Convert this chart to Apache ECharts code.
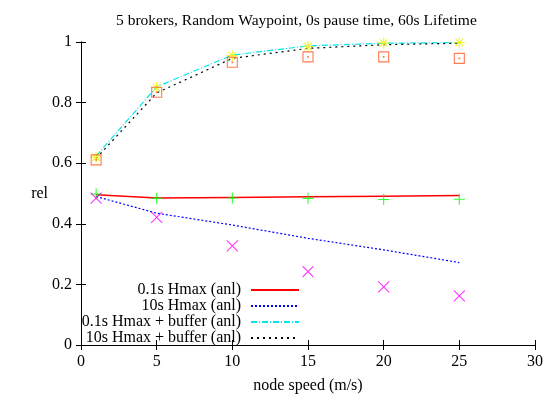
<!DOCTYPE html>
<html>
<head>
<meta charset="utf-8">
<script src="https://cdn.jsdelivr.net/npm/echarts@6/dist/echarts.min.js"></script>
<style>html,body{margin:0;padding:0;background:#fff}#c{width:547px;height:400px}</style>
</head>
<body>
<div id="c"></div>
<script>
const speeds = [1, 5, 10, 15, 20, 25];
const xTicks = [0, 5, 10, 15, 20, 25, 30];
const yTicks = [0, 0.2, 0.4, 0.6, 0.8, 1];
const hmax01Anl = [0.496, 0.485, 0.487, 0.489, 0.491, 0.493];
const hmax10Anl = [0.490, 0.435, 0.396, 0.352, 0.314, 0.272];
const hmax01BufAnl = [0.624, 0.852, 0.957, 0.987, 0.996, 0.998];
const hmax10BufAnl = [0.616, 0.832, 0.946, 0.979, 0.991, 0.996];
const hmax01Sim = [0.498, 0.484, 0.485, 0.484, 0.480, 0.481];
const hmax10Sim = [0.485, 0.421, 0.327, 0.242, 0.192, 0.162];
const hmax01BufSim = [0.620, 0.850, 0.955, 0.985, 0.997, 0.998];
const hmax10BufSim = [0.611, 0.834, 0.933, 0.951, 0.951, 0.946];
const names = ['0.1s Hmax (anl)', '10s Hmax (anl)', '0.1s Hmax + buffer (anl)', '10s Hmax + buffer (anl)'];

const pts = arr => speeds.map((s, i) => [s, arr[i]]);
const font = 'Liberation Serif, Times New Roman, serif';

const lineSeries = (name, arr, color, type, width) => ({
  name, type: 'line', data: pts(arr), symbol: 'none', z: 2,
  lineStyle: { color, type, width }, itemStyle: { color }
});
const scatterSeries = (name, arr, color, path, size) => ({
  name, type: 'scatter', data: pts(arr), symbol: path, symbolSize: size, z: 3,
  itemStyle: { color: 'none', borderColor: color, borderWidth: 1.1 }
});

const legendRows = [282, 298, 314, 330];
const legends = names.map((n, i) => ({
  data: [n], right: 247, top: legendRows[i], align: 'right', orient: 'horizontal',
  padding: 0, itemWidth: 48, itemHeight: 12, itemGap: 0, selectedMode: false,
  itemStyle: { opacity: 0 },
  textStyle: { fontFamily: font, fontSize: 16, color: '#000', padding: [0, 5, 0, 0] }
}));

const axisCommon = {
  min: 0, axisLine: { show: true, lineStyle: { color: '#000', width: 1 } },
  axisTick: { show: true, inside: true, length: 5, lineStyle: { color: '#000' } },
  splitLine: { show: false }
};

const chart = echarts.init(document.getElementById('c'), null, { renderer: 'canvas' });
chart.setOption({
  animation: false,
  backgroundColor: '#fff',
  title: {
    text: '5 brokers, Random Waypoint, 0s pause time, 60s Lifetime',
    left: 111, top: 8,
    textStyle: { fontFamily: font, fontSize: 15.5, fontWeight: 'normal', color: '#000' }
  },
  legend: legends,
  grid: { left: 81, right: 12, top: 42, bottom: 55, containLabel: false },
  xAxis: [
    Object.assign({}, axisCommon, {
      type: 'value', max: xTicks[xTicks.length - 1], interval: 5, position: 'bottom',
      name: 'node speed (m/s)', nameLocation: 'middle', nameGap: 33,
      nameTextStyle: { fontFamily: font, fontSize: 16, color: '#000' },
      axisLabel: { fontFamily: font, fontSize: 16, color: '#000', margin: 9 }
    }),
    Object.assign({}, axisCommon, {
      type: 'value', max: 30, interval: 5, position: 'top', axisLabel: { show: false }
    })
  ],
  yAxis: [
    Object.assign({}, axisCommon, {
      type: 'value', max: yTicks[yTicks.length - 1], interval: 0.2, position: 'left',
      name: 'rel', nameLocation: 'middle', nameRotate: 0, nameGap: 33, nameMoveOverlap: false,
      nameTextStyle: { fontFamily: font, fontSize: 16, color: '#000' },
      axisLabel: { fontFamily: font, fontSize: 16, color: '#000', margin: 9 }
    }),
    Object.assign({}, axisCommon, {
      type: 'value', max: 1, interval: 0.2, position: 'right', axisLabel: { show: false }
    })
  ],
  series: [
    lineSeries(names[0], hmax01Anl, '#ff0000', 'solid', 1.5),
    lineSeries(names[1], hmax10Anl, '#0000ff', [2, 2], 1.2),
    lineSeries(names[2], hmax01BufAnl, '#00e5ee', [6, 2, 1, 2], 1.2),
    lineSeries(names[3], hmax10BufAnl, '#000000', [2, 4], 1.2),
    scatterSeries('sim 0.1s', hmax01Sim, '#00ff00', 'path://M5,0L5,10M0,5L10,5', 11),
    scatterSeries('sim 10s', hmax10Sim, '#ff00ff', 'path://M0,0L10,10M10,0L0,10', 11),
    scatterSeries('sim 0.1s buf', hmax01BufSim, '#f0f000', 'path://M5,0L5,10M0,5L10,5M1.5,1.5L8.5,8.5M8.5,1.5L1.5,8.5', 11),
    scatterSeries('sim 10s buf', hmax10BufSim, '#ff5a28', 'path://M0,0L10,0L10,10L0,10ZM4.7,4.7L5.3,4.7L5.3,5.3L4.7,5.3Z', 10)
  ]
});
</script>
</body>
</html>
